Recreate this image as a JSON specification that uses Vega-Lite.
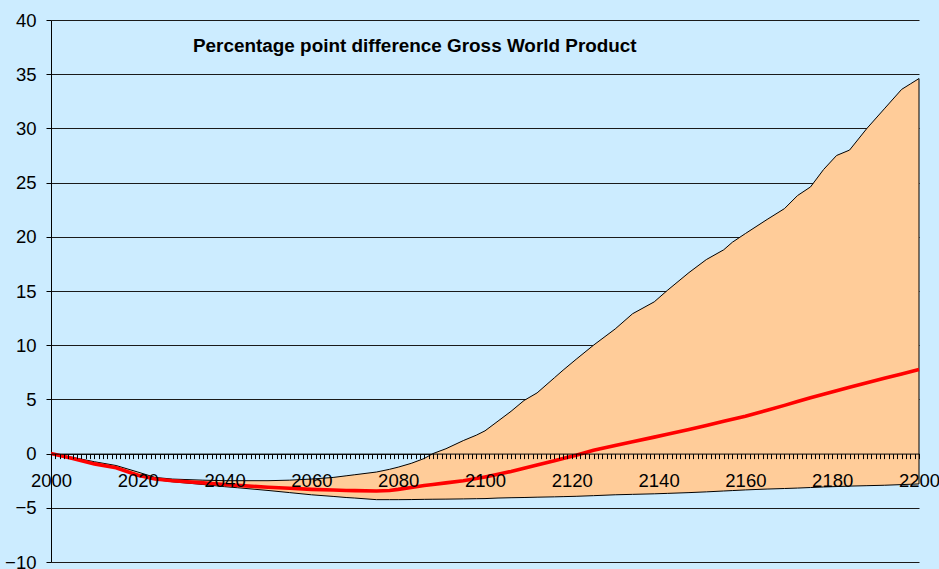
{
  "$schema": "https://vega.github.io/schema/vega-lite/v6.json",
  "autosize": "none",
  "width": 868,
  "height": 542,
  "padding": {"left": 51, "top": 20, "right": 20, "bottom": 7},
  "background": "#CCECFF",
  "config": {"view": {"stroke": null}},
  "title": {
    "text": "Percentage point difference Gross World Product",
    "anchor": "start",
    "frame": "group",
    "dx": 142,
    "offset": -45,
    "font": "Liberation Sans",
    "fontSize": 18.9,
    "fontWeight": "bold",
    "color": "black"
  },
  "data": {
    "values": [
      {"year": 2000, "upper": 0, "lower": 0, "mid": 0},
      {"year": 2005, "upper": -0.35, "lower": -0.45, "mid": -0.45},
      {"year": 2010, "upper": -0.75, "lower": -0.9, "mid": -0.95},
      {"year": 2015, "upper": -1.1, "lower": -1.35, "mid": -1.3},
      {"year": 2020, "upper": -1.7, "lower": -1.9, "mid": -2.0},
      {"year": 2024, "upper": -2.2, "lower": -2.4, "mid": -2.35},
      {"year": 2028, "upper": -2.35, "lower": -2.6, "mid": -2.5},
      {"year": 2035, "upper": -2.45, "lower": -2.85, "mid": -2.7},
      {"year": 2040, "upper": -2.5, "lower": -3.05, "mid": -2.85},
      {"year": 2043, "upper": -2.5, "lower": -3.15, "mid": -2.93},
      {"year": 2050, "upper": -2.5, "lower": -3.4, "mid": -3.1},
      {"year": 2055, "upper": -2.45, "lower": -3.6, "mid": -3.2},
      {"year": 2060, "upper": -2.35, "lower": -3.8, "mid": -3.3},
      {"year": 2065, "upper": -2.2, "lower": -3.95, "mid": -3.36},
      {"year": 2068, "upper": -2.05, "lower": -4.05, "mid": -3.4},
      {"year": 2070, "upper": -1.95, "lower": -4.1, "mid": -3.42},
      {"year": 2075, "upper": -1.7, "lower": -4.25, "mid": -3.45},
      {"year": 2078, "upper": -1.45, "lower": -4.25, "mid": -3.4},
      {"year": 2080, "upper": -1.25, "lower": -4.25, "mid": -3.3},
      {"year": 2083, "upper": -0.9, "lower": -4.24, "mid": -3.12},
      {"year": 2086, "upper": -0.45, "lower": -4.22, "mid": -2.95},
      {"year": 2088, "upper": 0.0, "lower": -4.21, "mid": -2.85},
      {"year": 2091, "upper": 0.45, "lower": -4.2, "mid": -2.7},
      {"year": 2095, "upper": 1.2, "lower": -4.18, "mid": -2.5},
      {"year": 2098, "upper": 1.7, "lower": -4.16, "mid": -2.3},
      {"year": 2100, "upper": 2.1, "lower": -4.15, "mid": -2.15},
      {"year": 2103, "upper": 3.0, "lower": -4.1, "mid": -1.9},
      {"year": 2106, "upper": 3.9, "lower": -4.07, "mid": -1.65},
      {"year": 2109, "upper": 4.9, "lower": -4.05, "mid": -1.35},
      {"year": 2112, "upper": 5.6, "lower": -4.02, "mid": -1.05},
      {"year": 2116, "upper": 7.0, "lower": -3.99, "mid": -0.65},
      {"year": 2118, "upper": 7.7, "lower": -3.97, "mid": -0.45},
      {"year": 2121, "upper": 8.7, "lower": -3.94, "mid": -0.15},
      {"year": 2125, "upper": 10.0, "lower": -3.88, "mid": 0.3},
      {"year": 2130, "upper": 11.5, "lower": -3.8, "mid": 0.75},
      {"year": 2134, "upper": 12.9, "lower": -3.76, "mid": 1.1},
      {"year": 2139, "upper": 14.0, "lower": -3.71, "mid": 1.52},
      {"year": 2142, "upper": 15.05, "lower": -3.67, "mid": 1.78},
      {"year": 2147, "upper": 16.7, "lower": -3.6, "mid": 2.22},
      {"year": 2151, "upper": 17.9, "lower": -3.53, "mid": 2.6},
      {"year": 2155, "upper": 18.8, "lower": -3.45, "mid": 2.98},
      {"year": 2157, "upper": 19.5, "lower": -3.41, "mid": 3.17},
      {"year": 2160, "upper": 20.3, "lower": -3.35, "mid": 3.45},
      {"year": 2165, "upper": 21.6, "lower": -3.27, "mid": 4.0},
      {"year": 2169, "upper": 22.6, "lower": -3.22, "mid": 4.45},
      {"year": 2172, "upper": 23.8, "lower": -3.18, "mid": 4.8},
      {"year": 2175, "upper": 24.6, "lower": -3.13, "mid": 5.15},
      {"year": 2178, "upper": 26.2, "lower": -3.08, "mid": 5.48},
      {"year": 2181, "upper": 27.5, "lower": -3.04, "mid": 5.8},
      {"year": 2184, "upper": 28.0, "lower": -3.0, "mid": 6.12},
      {"year": 2188, "upper": 30.0, "lower": -2.96, "mid": 6.54},
      {"year": 2192, "upper": 31.8, "lower": -2.92, "mid": 6.95},
      {"year": 2196, "upper": 33.6, "lower": -2.86, "mid": 7.35},
      {"year": 2198, "upper": 34.1, "lower": -2.83, "mid": 7.55},
      {"year": 2200, "upper": 34.6, "lower": -2.8, "mid": 7.75}
    ]
  },
  "encoding": {
    "x": {
      "field": "year",
      "type": "quantitative",
      "scale": {"domain": [2000, 2200], "nice": false, "zero": false},
      "axis": {
        "orient": "bottom",
        "offset": -108.4,
        "zindex": 1,
        "tickCount": 200,
        "format": "d",
        "labelExpr": "datum.value % 20 === 0 ? datum.label : ''",
        "labelOverlap": false,
        "labelFlush": false,
        "grid": false,
        "title": null,
        "domainColor": "black",
        "domainWidth": 1,
        "tickColor": "black",
        "tickWidth": 1,
        "tickSize": 5,
        "labelPadding": 13,
        "labelFont": "Liberation Sans",
        "labelFontSize": 18.5,
        "labelColor": "black"
      }
    }
  },
  "layer": [
    {
      "mark": {"type": "area", "fill": "#FFCC99", "stroke": "black", "strokeWidth": 1, "fillOpacity": 1},
      "encoding": {
        "y": {
          "field": "upper",
          "type": "quantitative",
          "scale": {"domain": [-10, 40], "nice": false, "zero": false},
          "axis": {
            "values": [-10, -5, 0, 5, 10, 15, 20, 25, 30, 35, 40],
            "grid": true,
            "gridColor": "#1a1a1a",
            "gridWidth": 1,
            "title": null,
            "domainColor": "black",
            "tickColor": "black",
            "tickSize": 5,
            "labelPadding": 10,
            "labelFont": "Liberation Sans",
            "labelFontSize": 18.5,
            "labelColor": "black"
          }
        },
        "y2": {"field": "lower"}
      }
    },
    {
      "mark": {"type": "line", "color": "#FF0000", "strokeWidth": 3.6},
      "encoding": {
        "y": {"field": "mid", "type": "quantitative"}
      }
    }
  ]
}
